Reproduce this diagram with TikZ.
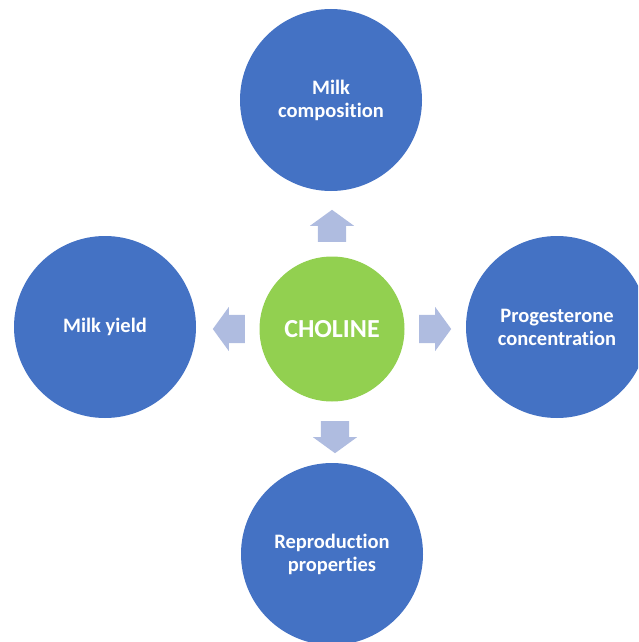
\documentclass[tikz,border=0pt]{standalone}
\usepackage{fontspec}
\setmainfont{Carlito}[Ligatures=NoCommon]
\usetikzlibrary{shapes.arrows}

\definecolor{topicblue}{HTML}{4472C4}
\definecolor{cholgreen}{HTML}{92D050}
\definecolor{arrowblue}{HTML}{AFBCE0}

\tikzset{
  topic/.style={circle, fill=topicblue, minimum size=182pt, inner sep=0pt,
    text=white, font=\bfseries\fontsize{20.5}{23}\selectfont, align=center},
  hub/.style={circle, fill=cholgreen, minimum size=145pt, inner sep=0pt,
    text=white, font=\bfseries\fontsize{26}{30}\selectfont},
  blockarrow/.style={single arrow, fill=arrowblue, draw=none, inner xsep=0pt,
    inner ysep=14pt, minimum height=32pt, single arrow head extend=8pt,
    single arrow tip angle=108, anchor=tail}
}

\begin{document}
\begin{tikzpicture}[x=1pt, y=-1pt]
    \useasboundingbox (0,0) rectangle (638,642);
    \clip (0,0) rectangle (638,642);

    % centre and the four effects
    \node[hub] (choline) at (332,329) {CHOLINE};
    \node[topic] (milkcomp) at (331,100) {Milk\\composition};
    \node[topic] (yield) at (105,327) {Milk yield};
    \node[topic] (progest) at (557,327) {Progesterone\\concentration};
    \node[topic] (repro) at (332,554) {Reproduction\\properties};

    % block arrows pointing outwards
    \node[blockarrow, rotate=90] (upArr) at (332,242) {};
    \node[blockarrow, rotate=180] (leftArr) at (245,329) {};
    \node[blockarrow] (rightArr) at (419,329) {};
    \node[blockarrow, rotate=-90] (downArr) at (335,421) {};

\end{tikzpicture}
\end{document}
